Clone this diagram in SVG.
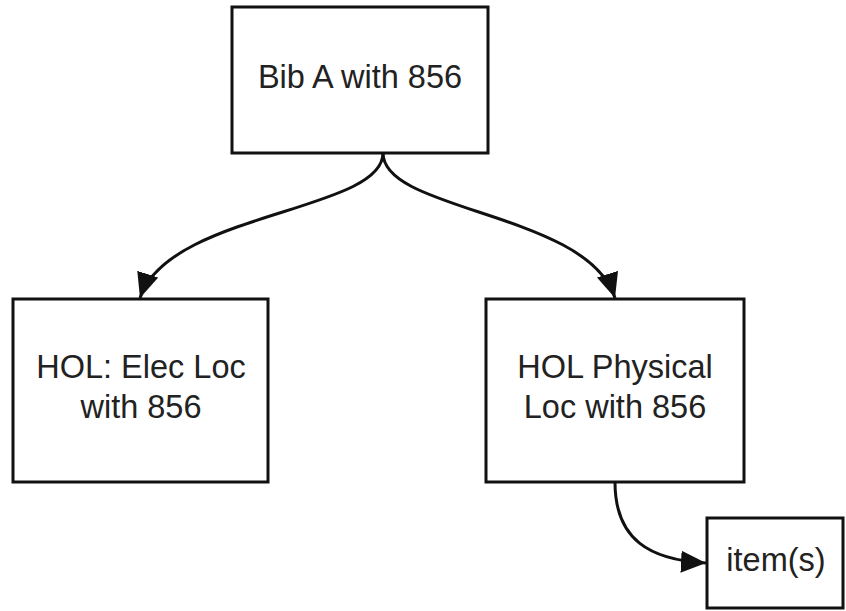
<svg xmlns="http://www.w3.org/2000/svg" width="846" height="611" viewBox="0 0 846 611">
<style>
.box{fill:#fff;stroke:#111;stroke-width:3}
.lbl{font-family:"Liberation Sans",Arial,sans-serif;font-size:32.5px;fill:#222;text-anchor:middle}
.edge{fill:none;stroke:#111;stroke-width:3}
</style>
<defs>
<marker id="arr" markerUnits="userSpaceOnUse" markerWidth="28" markerHeight="24" refX="25" refY="11" orient="auto">
<path d="M0,0 L25,11 L0,22 Z" fill="#111"/>
</marker>
</defs>
<rect width="846" height="611" fill="#fff"/>
<g id="edges">
<path class="edge" d="M383,153 C383,212 168,212 140,298" marker-end="url(#arr)"/>
<path class="edge" d="M383,153 C383,212 588,212 615,298" marker-end="url(#arr)"/>
<path class="edge" d="M615,482 C615,540 650,560 706,563" marker-end="url(#arr)"/>
</g>
<g id="bib">
<rect class="box" x="232" y="7" width="256" height="146"/>
<text class="lbl" x="360" y="88">Bib A with 856</text>
</g>
<g id="elec">
<rect class="box" x="13" y="299" width="255" height="183"/>
<text class="lbl" x="141" y="378">HOL: Elec Loc</text>
<text class="lbl" x="141" y="418">with 856</text>
</g>
<g id="phys">
<rect class="box" x="486" y="299" width="258" height="183"/>
<text class="lbl" x="615" y="378">HOL Physical</text>
<text class="lbl" x="615" y="418">Loc with 856</text>
</g>
<g id="items">
<rect class="box" x="707" y="518" width="136" height="90"/>
<text class="lbl" x="776" y="571">item(s)</text>
</g>
</svg>
